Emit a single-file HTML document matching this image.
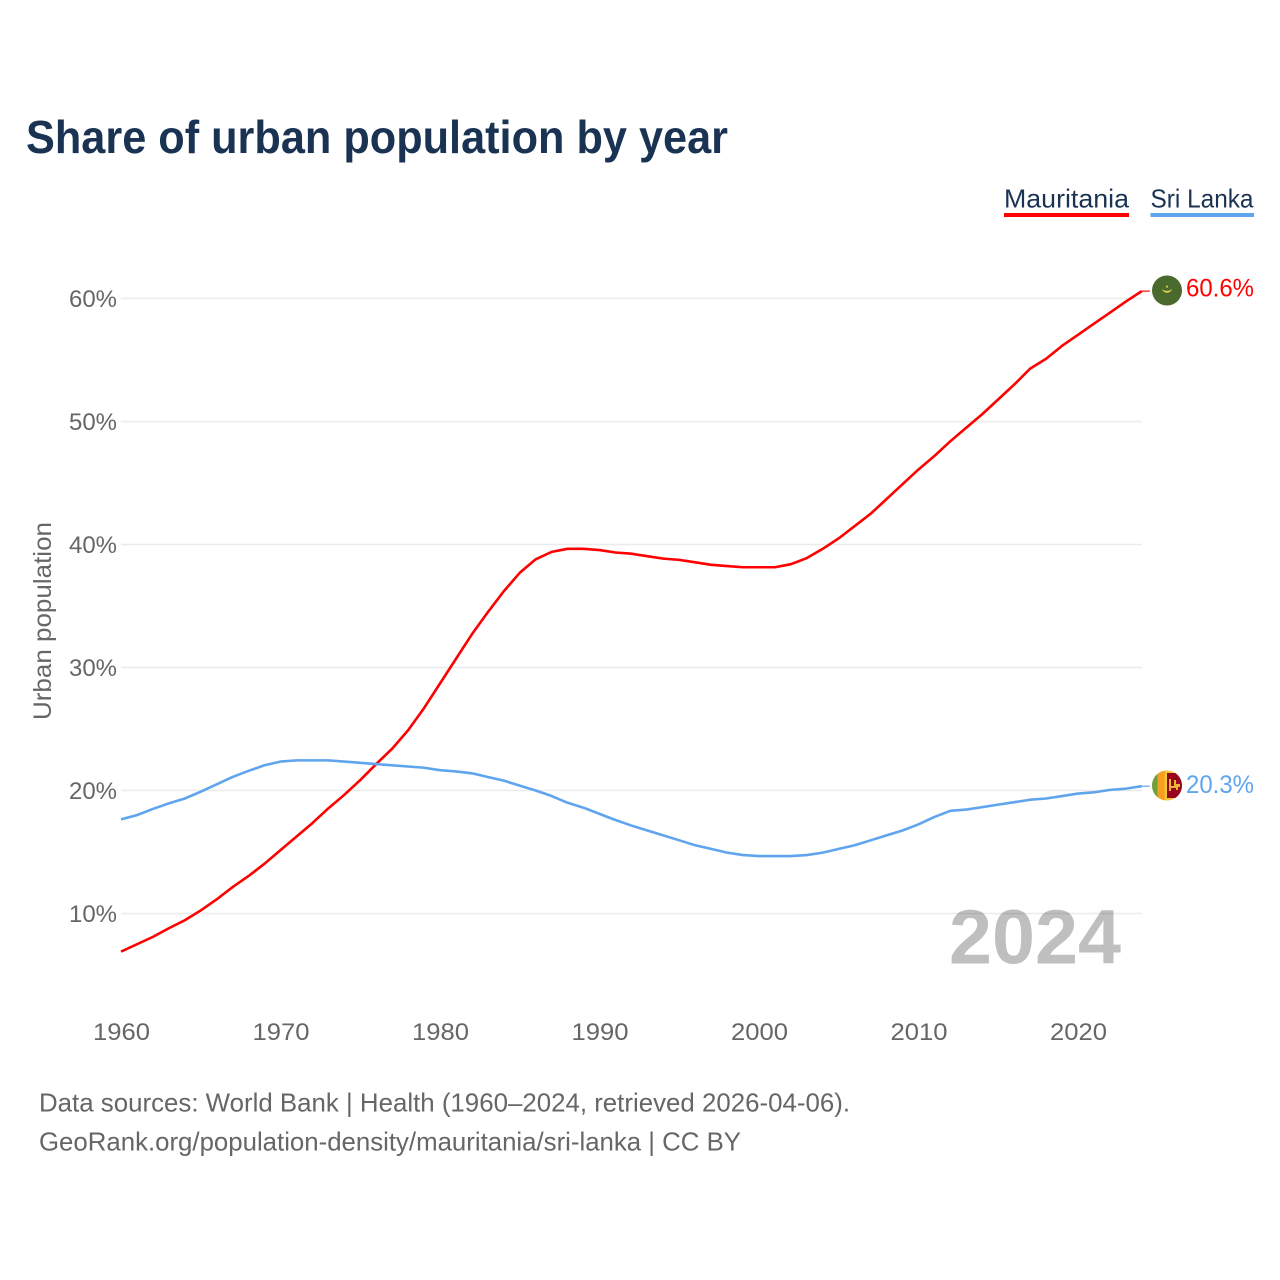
<!DOCTYPE html>
<html lang="en">
<head>
<meta charset="utf-8">
<title>Share of urban population by year</title>
<style>
html,body{margin:0;padding:0;background:#fff;width:1280px;height:1280px;overflow:hidden}
svg{display:block;font-family:"Liberation Sans",sans-serif}
</style>
</head>
<body>
<svg id="chart" xmlns="http://www.w3.org/2000/svg" width="1280" height="1280" viewBox="0 0 1280 1280">
  <rect x="0" y="0" width="1280" height="1280" fill="#ffffff"/>
  <text x="26" y="153" font-size="46" font-weight="700" fill="#1a3353" textLength="702" lengthAdjust="spacingAndGlyphs">Share of urban population by year</text>

  <g>
    <g>
      <text x="1004" y="207.5" font-size="26" fill="#1a3353" textLength="125" lengthAdjust="spacingAndGlyphs">Mauritania</text>
      <rect x="1004" y="213" width="125" height="4" fill="#ff0000"/>
    </g>
    <g>
      <text x="1150.5" y="207.5" font-size="26" fill="#1a3353" textLength="103" lengthAdjust="spacingAndGlyphs">Sri Lanka</text>
      <rect x="1150.5" y="213" width="103.5" height="4" fill="#5fa5ee"/>
    </g>
  </g>

  <text x="949" y="963.5" font-size="77" font-weight="700" fill="#bfbfbf" textLength="172" lengthAdjust="spacingAndGlyphs">2024</text>

  <g id="grid"></g>
  <g id="yticks"></g>
  <g id="xticks"></g>

  <text transform="translate(51 720) rotate(-90)" font-size="25" fill="#666666" textLength="198" lengthAdjust="spacingAndGlyphs">Urban population</text>

  <g id="series"></g>

  <g>
    <circle cx="1167" cy="290.5" r="15" fill="#4a692c"/>
    <path d="M1161.8 288.8 A5.4 5.4 0 0 0 1172.2 288.8 A6 4.2 0 0 1 1161.8 288.8 Z" fill="#e8d44a"/>
    <circle cx="1167" cy="286.6" r="1.1" fill="#d8c84a"/>
  </g>
  <g>
    <clipPath id="lk"><circle cx="1167" cy="785.5" r="15"/></clipPath>
    <g clip-path="url(#lk)">
      <rect x="1152" y="770" width="30" height="31" fill="#f7c33c"/>
      <rect x="1152" y="770" width="5.6" height="31" fill="#6f9e3f"/>
      <rect x="1157.6" y="770" width="7" height="31" fill="#f5a01e"/>
      <rect x="1167" y="773" width="15" height="25" fill="#97061f"/>
      <path d="M1169 779h2v7h3v-6h2v4h4v3h-2v3h-2v-2h-5v3h-2z" fill="#eab531"/>
    </g>
  </g>

  <text id="label-mauritania" x="1186" y="296.5" font-size="25" fill="#ff0000" textLength="68" lengthAdjust="spacingAndGlyphs">60.6%</text>
  <text id="label-sri-lanka" x="1186" y="793" font-size="25" fill="#5fa5ee" textLength="68" lengthAdjust="spacingAndGlyphs">20.3%</text>

  <text x="39" y="1111.5" font-size="26" fill="#666666" textLength="811" lengthAdjust="spacingAndGlyphs">Data sources: World Bank | Health (1960–2024, retrieved 2026-04-06).</text>
  <text x="39" y="1150.5" font-size="26" fill="#666666" textLength="702" lengthAdjust="spacingAndGlyphs">GeoRank.org/population-density/mauritania/sri-lanka | CC BY</text>
</svg>
<script>
const years = [1960,1961,1962,1963,1964,1965,1966,1967,1968,1969,1970,1971,1972,1973,1974,1975,1976,1977,1978,1979,1980,1981,1982,1983,1984,1985,1986,1987,1988,1989,1990,1991,1992,1993,1994,1995,1996,1997,1998,1999,2000,2001,2002,2003,2004,2005,2006,2007,2008,2009,2010,2011,2012,2013,2014,2015,2016,2017,2018,2019,2020,2021,2022,2023,2024];
const mauritania = [6.9,7.5,8.1,8.8,9.45,10.25,11.15,12.15,13.05,14.05,15.15,16.25,17.35,18.55,19.65,20.85,22.15,23.4,24.9,26.7,28.7,30.7,32.7,34.5,36.2,37.7,38.8,39.4,39.65,39.65,39.55,39.35,39.25,39.05,38.85,38.75,38.55,38.35,38.25,38.15,38.15,38.15,38.4,38.9,39.65,40.5,41.5,42.5,43.7,44.9,46.1,47.2,48.4,49.5,50.6,51.8,53.0,54.3,55.1,56.15,57.05,57.95,58.85,59.75,60.6];
const sriLanka = [17.65,18.0,18.5,18.95,19.35,19.9,20.5,21.1,21.6,22.05,22.35,22.45,22.45,22.45,22.35,22.25,22.15,22.05,21.95,21.85,21.65,21.55,21.4,21.1,20.8,20.4,20.0,19.55,19.0,18.6,18.1,17.6,17.15,16.75,16.35,15.95,15.55,15.25,14.95,14.75,14.67,14.67,14.67,14.75,14.95,15.25,15.55,15.95,16.35,16.75,17.25,17.85,18.35,18.45,18.65,18.85,19.05,19.25,19.35,19.55,19.75,19.85,20.05,20.15,20.35];
const yTickValues = [10,20,30,40,50,60];
const xTickValues = [1960,1970,1980,1990,2000,2010,2020];

const NS = 'http://www.w3.org/2000/svg';
const xScale = function (year) { return 121 + (year - 1960) * 15.95; };
const yScale = function (value) { return 913.5 - (value - 10) * 12.3; };
const gridGroup = document.getElementById('grid');
const yTickGroup = document.getElementById('yticks');
const xTickGroup = document.getElementById('xticks');
const seriesGroup = document.getElementById('series');

yTickValues.forEach(function (value) {
  const line = document.createElementNS(NS, 'line');
  
  
  line.setAttribute('x1', 121);
  line.setAttribute('x2', xScale(2024));
  line.setAttribute('y1', yScale(value));
  line.setAttribute('y2', yScale(value));
  line.setAttribute('stroke', '#000000');
  line.setAttribute('stroke-opacity', 0.08);
  line.setAttribute('stroke-width', 1.4);
  gridGroup.appendChild(line);

  const label = document.createElementNS(NS, 'text');
  
  
  label.setAttribute('x', 117);
  label.setAttribute('y', yScale(value) + 8.5);
  label.setAttribute('text-anchor', 'end');
  label.setAttribute('font-size', 24);
  label.setAttribute('fill', '#666666');
  label.setAttribute('textLength', 48);
  label.setAttribute('lengthAdjust', 'spacingAndGlyphs');
  label.textContent = value + '%';
  yTickGroup.appendChild(label);
});

xTickValues.forEach(function (year) {
  const label = document.createElementNS(NS, 'text');
  
  
  label.setAttribute('x', xScale(year) + 0.5);
  label.setAttribute('y', 1040);
  label.setAttribute('text-anchor', 'middle');
  label.setAttribute('font-size', 24);
  label.setAttribute('fill', '#666666');
  label.setAttribute('textLength', 57);
  label.setAttribute('lengthAdjust', 'spacingAndGlyphs');
  label.textContent = year;
  xTickGroup.appendChild(label);
});

function buildPoints(values) {
  return values.map(function (value, i) {
    return xScale(years[i]).toFixed(2) + ',' + yScale(value).toFixed(2);
  }).join(' ');
}

const mauritaniaLine = document.createElementNS(NS, 'polyline');


mauritaniaLine.setAttribute('points', buildPoints(mauritania));
mauritaniaLine.setAttribute('fill', 'none');
mauritaniaLine.setAttribute('stroke', '#ff0000');
mauritaniaLine.setAttribute('stroke-width', 2.6);
mauritaniaLine.setAttribute('stroke-linejoin', 'round');

const sriLankaLine = document.createElementNS(NS, 'polyline');


sriLankaLine.setAttribute('points', buildPoints(sriLanka));
sriLankaLine.setAttribute('fill', 'none');
sriLankaLine.setAttribute('stroke', '#5fa5ee');
sriLankaLine.setAttribute('stroke-width', 2.6);
sriLankaLine.setAttribute('stroke-linejoin', 'round');

seriesGroup.appendChild(mauritaniaLine);
seriesGroup.appendChild(sriLankaLine);

const lastIndex = years.length - 1;
const mauritaniaStub = document.createElementNS(NS, 'line');


mauritaniaStub.setAttribute('x1', xScale(years[lastIndex]));
mauritaniaStub.setAttribute('x2', xScale(years[lastIndex]) + 8);
mauritaniaStub.setAttribute('y1', yScale(mauritania[lastIndex]));
mauritaniaStub.setAttribute('y2', yScale(mauritania[lastIndex]));
mauritaniaStub.setAttribute('stroke', '#ff0000');
mauritaniaStub.setAttribute('stroke-width', 1.2);
seriesGroup.appendChild(mauritaniaStub);

const sriLankaStub = document.createElementNS(NS, 'line');


sriLankaStub.setAttribute('x1', xScale(years[lastIndex]));
sriLankaStub.setAttribute('x2', xScale(years[lastIndex]) + 8);
sriLankaStub.setAttribute('y1', yScale(sriLanka[lastIndex]));
sriLankaStub.setAttribute('y2', yScale(sriLanka[lastIndex]));
sriLankaStub.setAttribute('stroke', '#5fa5ee');
sriLankaStub.setAttribute('stroke-width', 1.2);
seriesGroup.appendChild(sriLankaStub);
</script>
</body>
</html>
